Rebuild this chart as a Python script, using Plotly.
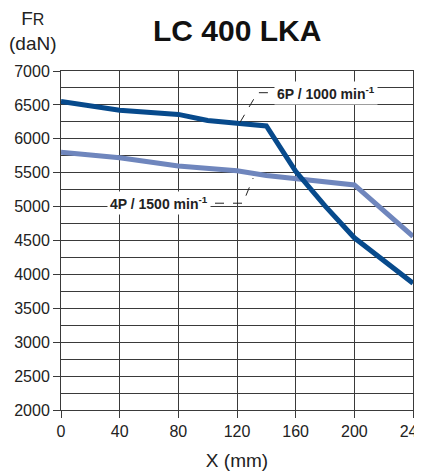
import plotly.graph_objects as go

x_6p = [0, 40, 80, 100, 120, 140, 160, 180, 200, 240]
fr_6p = [6550, 6420, 6360, 6270, 6230, 6190, 5520, 5010, 4540, 3870]

x_4p = [0, 40, 80, 120, 140, 200, 240]
fr_4p = [5800, 5720, 5600, 5530, 5460, 5320, 4560]

x_ticks = [0, 40, 80, 120, 160, 200, 240]
y_ticks = list(range(2000, 7001, 500))

FONT = "Liberation Sans, Arial"
GRID = "#3a3a3a"

fig = go.Figure()

fig.add_trace(go.Scatter(x=x_4p, y=fr_4p, mode="lines",
                         line=dict(color="#6f86bd", width=5), showlegend=False))
fig.add_trace(go.Scatter(x=x_6p, y=fr_6p, mode="lines",
                         line=dict(color="#074a8c", width=5), showlegend=False))

# leader lines for the labels
fig.add_trace(go.Scatter(x=[122, 134, 142], y=[6240, 6680, 6680], mode="lines",
                         line=dict(color="#222", width=1, dash="dash"), showlegend=False))
fig.add_trace(go.Scatter(x=[105, 124, 131], y=[5050, 5050, 5420], mode="lines",
                         line=dict(color="#222", width=1, dash="dash"), showlegend=False))

fig.add_annotation(x=181, y=6680, text="<b>6P / 1000 min<sup>-1</sup></b>",
                   showarrow=False, bgcolor="white", borderpad=2,
                   font=dict(family=FONT, size=14, color="#222"))
fig.add_annotation(x=67, y=5050, text="<b>4P / 1500 min<sup>-1</sup></b>",
                   showarrow=False, bgcolor="white", borderpad=2,
                   font=dict(family=FONT, size=14, color="#222"))

fig.add_annotation(text="<b>LC 400 LKA</b>", xref="paper", yref="paper",
                   x=0.5, y=1.0, yshift=41, xanchor="center", yanchor="middle",
                   showarrow=False,
                   font=dict(family=FONT, size=30, color="#111"))
fig.add_annotation(text="F<span style='font-size:16px'>R</span><br>(daN)",
                   xref="paper", yref="paper", x=0, y=1.0, xshift=-28, yshift=40,
                   xanchor="center", yanchor="middle", showarrow=False, align="center",
                   font=dict(family=FONT, size=19, color="#222"))

fig.update_layout(
    width=414, height=468,
    margin=dict(l=53, r=9, t=63, b=66),
    plot_bgcolor="white", paper_bgcolor="white",
    font=dict(family=FONT, size=16, color="#222"),
    xaxis=dict(range=[0, 240], tickvals=x_ticks, ticks="outside", ticklen=7,
               tickcolor=GRID, showgrid=True, gridcolor=GRID, gridwidth=1,
               showline=True, linecolor=GRID, mirror=True, zeroline=False,
               automargin=False, ticklabeloverflow="allow",
               title=dict(text="X (mm)", standoff=14, font=dict(size=19))),
    yaxis=dict(range=[2000, 7000], tickvals=y_ticks, ticks="outside", ticklen=7,
               tickcolor=GRID, showgrid=True, gridcolor=GRID, gridwidth=1,
               minor=dict(dtick=250, showgrid=True, gridcolor=GRID, gridwidth=1),
               showline=True, linecolor=GRID, mirror=True, zeroline=False,
               automargin=False),
)

fig.write_html("out.html")
